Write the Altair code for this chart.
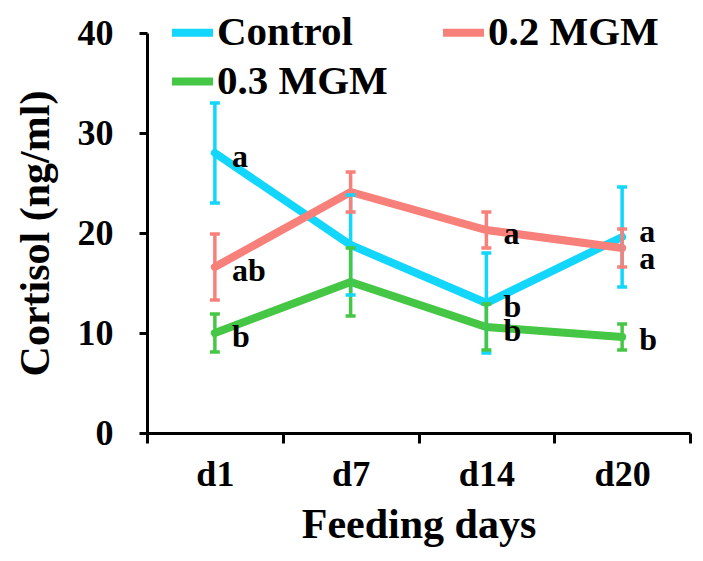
import altair as alt
import pandas as pd

days = ["d1", "d7", "d14", "d20"]
series_names = ["Control", "0.2 MGM", "0.3 MGM"]
colors = ["#12D6FB", "#F8807A", "#45C745"]

control = [28.0, 18.8, 13.0, 19.6]
control_err = [5.0, 5.0, 5.0, 5.0]
control_letters = ["a", "", "b", "a"]

mgm02 = [16.6, 24.1, 20.3, 18.5]
mgm02_err = [3.3, 2.0, 1.8, 1.9]
mgm02_letters = ["ab", "", "a", "a"]

mgm03 = [10.0, 15.1, 10.6, 9.6]
mgm03_err = [1.9, 3.4, 2.3, 1.3]
mgm03_letters = ["b", "", "b", "b"]

rows = []
for name, vals, errs, lets in [
    ("Control", control, control_err, control_letters),
    ("0.2 MGM", mgm02, mgm02_err, mgm02_letters),
    ("0.3 MGM", mgm03, mgm03_err, mgm03_letters),
]:
    for d, v, e, l in zip(days, vals, errs, lets):
        rows.append({"series": name, "day": d, "value": v,
                     "lo": v - e, "hi": v + e, "letter": l})
df = pd.DataFrame(rows)

FONT = "Liberation Serif"

x_enc = alt.X("day:O", sort=days,
              scale=alt.Scale(type="band", paddingInner=0, paddingOuter=0),
              axis=alt.Axis(title="Feeding days", labelAngle=0, tickBand="extent"))
color_enc = alt.Color("series:N", sort=series_names,
                      scale=alt.Scale(domain=series_names, range=colors),
                      legend=alt.Legend(title=None, orient="none", legendX=21, legendY=-25,
                                        direction="horizontal", columns=2,
                                        columnPadding=39, rowPadding=4,
                                        symbolType="stroke", symbolSize=1681,
                                        symbolStrokeWidth=8, labelFont=FONT,
                                        labelFontSize=41, labelFontWeight="bold",
                                        labelColor="black", labelOffset=0,
                                        labelLimit=400))

base = alt.Chart(df)

lines = base.mark_line(strokeWidth=8, strokeCap="round").encode(
    x=x_enc,
    y=alt.Y("value:Q", scale=alt.Scale(domain=[0, 40]),
            axis=alt.Axis(title="Cortisol (ng/ml)", values=[0, 10, 20, 30, 40])),
    color=color_enc,
    order=alt.Order("day_idx:Q"),
).transform_calculate(day_idx="indexof(['d1','d7','d14','d20'], datum.day)")

bars = base.mark_rule(strokeWidth=3.5).encode(
    x=alt.X("day:O", sort=days),
    y="lo:Q", y2="hi:Q",
    color=alt.Color("series:N", sort=series_names, legend=None),
)
caps_lo = base.mark_tick(orient="horizontal", size=10, thickness=3.5, opacity=1).encode(
    x=alt.X("day:O", sort=days), y="lo:Q",
    color=alt.Color("series:N", sort=series_names, legend=None))
caps_hi = base.mark_tick(orient="horizontal", size=10, thickness=3.5, opacity=1).encode(
    x=alt.X("day:O", sort=days), y="hi:Q",
    color=alt.Color("series:N", sort=series_names, legend=None))

def txt(dy, cond):
    return base.transform_filter(cond).mark_text(
        align="left", baseline="middle", dx=17, dy=dy, font=FONT,
        fontSize=32, fontWeight="bold", color="black"
    ).encode(x=alt.X("day:O", sort=days), y="value:Q", text="letter:N")

t_main = txt(4, "datum.letter != '' && datum.day != 'd20'")
t_c20 = txt(-5, "datum.day == 'd20' && datum.series == 'Control'")
t_s20 = txt(11, "datum.day == 'd20' && datum.series == '0.2 MGM'")
t_g20 = txt(3, "datum.day == 'd20' && datum.series == '0.3 MGM'")

chart = alt.layer(lines, bars, caps_lo, caps_hi, t_main, t_c20, t_s20, t_g20).properties(
    width=543, height=400,
    autosize=alt.AutoSizeParams(type="none"),
    padding={"left": 139, "top": 25, "right": 5, "bottom": 120},
).configure_view(stroke=None).configure_axis(
    domainColor="black", domainWidth=3, tickColor="black", tickWidth=3,
    grid=False, labelFont=FONT, labelFontSize=36, labelFontWeight="bold",
    labelColor="black", titleFont=FONT, titleFontSize=42, titleFontWeight="bold",
    titleColor="black",
).configure_axisY(tickSize=8, labelPadding=26, titlePadding=20
).configure_axisX(tickSize=10, labelPadding=14, titlePadding=12)

chart.save("out.html", embed_options={"renderer": "svg", "actions": False})
